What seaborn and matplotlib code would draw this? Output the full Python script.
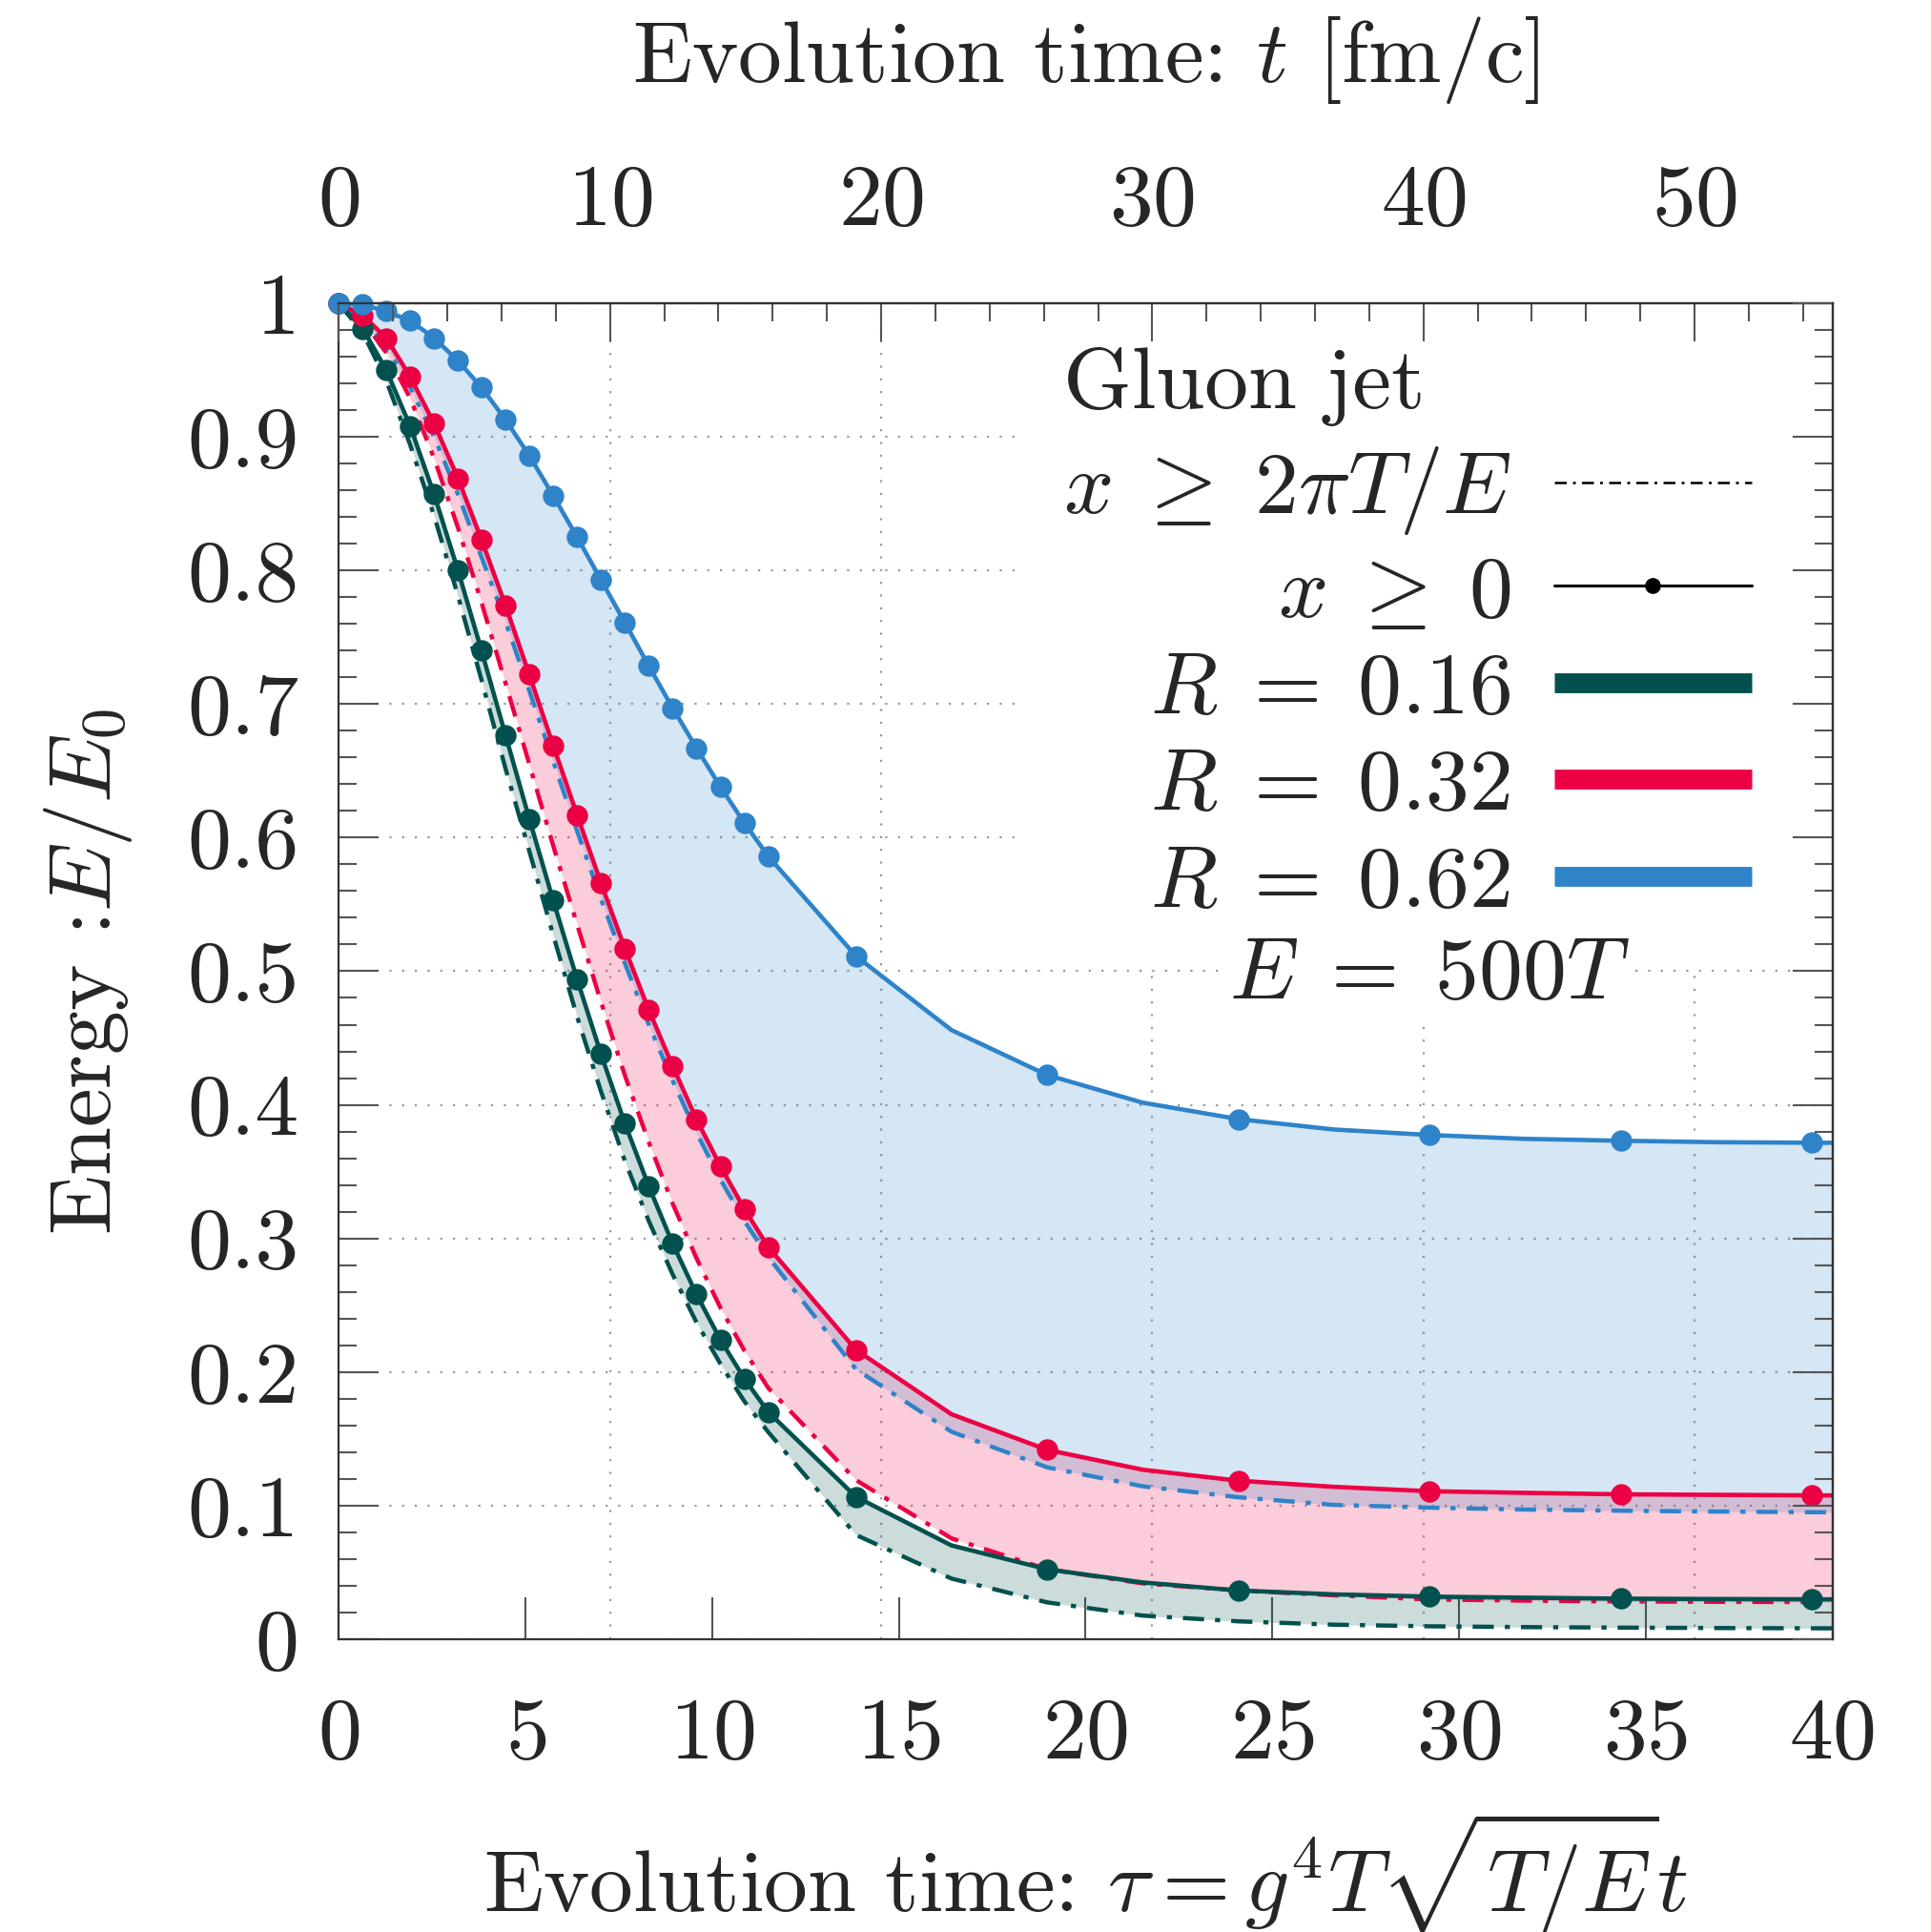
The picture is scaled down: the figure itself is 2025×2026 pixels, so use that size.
import matplotlib

matplotlib.use("Agg")

import matplotlib.pyplot as plt
from matplotlib.lines import Line2D
from matplotlib.patches import Rectangle
from matplotlib.ticker import MultipleLocator
import numpy as np
import seaborn as sns

# evolution time tau (same grid for every curve); last point lies past the frame
TAU = [0.0, 0.64, 1.27, 1.91, 2.55, 3.19, 3.82, 4.46, 5.10, 5.74, 6.38, 7.02, 7.66,
       8.30, 8.94, 9.58, 10.22, 10.86, 11.50,
       13.85, 16.41, 18.97, 21.53, 24.09, 26.65, 29.21, 31.77, 34.33, 36.89, 39.45, 42.01]

# R = 0.16
R016_ALL = [1.0, 0.981, 0.950, 0.908, 0.857, 0.800, 0.740, 0.677, 0.614, 0.553, 0.494, 0.438,
            0.386, 0.339, 0.296, 0.258, 0.224, 0.195, 0.170,
            0.1065, 0.0701, 0.0523, 0.0424, 0.0364, 0.0335, 0.0318, 0.0310, 0.0303, 0.0300,
            0.0298, 0.0296]
R016_CUT = [1.0, 0.978, 0.942, 0.894, 0.841, 0.781, 0.718, 0.652, 0.590, 0.527, 0.466, 0.410,
            0.358, 0.313, 0.273, 0.237, 0.206, 0.178, 0.155,
            0.078, 0.0453, 0.0275, 0.0176, 0.0133, 0.0108, 0.0096, 0.0090, 0.0086, 0.0083,
            0.0081, 0.0080]

# R = 0.32
R032_ALL = [1.0, 0.991, 0.974, 0.945, 0.910, 0.869, 0.823, 0.774, 0.722, 0.669, 0.617, 0.566,
            0.517, 0.471, 0.429, 0.389, 0.354, 0.322, 0.2935,
            0.2165, 0.1683, 0.1417, 0.1268, 0.1186, 0.1140, 0.1107, 0.1095, 0.1084, 0.1080,
            0.1076, 0.1074]
R032_CUT = [1.0, 0.987, 0.963, 0.929, 0.884, 0.832, 0.776, 0.716, 0.655, 0.594, 0.535, 0.477,
            0.422, 0.372, 0.326, 0.285, 0.248, 0.216, 0.188,
            0.119, 0.0754, 0.0523, 0.0417, 0.0364, 0.0328, 0.0297, 0.0288, 0.0282, 0.0279,
            0.0277, 0.0276]

# R = 0.62
R062_ALL = [1.0, 0.999, 0.994, 0.987, 0.974, 0.957, 0.937, 0.913, 0.886, 0.856, 0.825, 0.793,
            0.761, 0.7285, 0.697, 0.667, 0.638, 0.611, 0.586,
            0.5113, 0.4559, 0.4223, 0.4016, 0.3893, 0.3815, 0.3774, 0.3745, 0.3731, 0.3720,
            0.3716, 0.3714]
R062_CUT = [1.0, 0.989, 0.968, 0.937, 0.900, 0.857, 0.810, 0.762, 0.710, 0.657, 0.605, 0.554,
            0.506, 0.460, 0.418, 0.379, 0.344, 0.313, 0.286,
            0.202, 0.1552, 0.1286, 0.1144, 0.1062, 0.1005, 0.0984, 0.0970, 0.0961, 0.0955,
            0.0950, 0.0948]

R_LABELS = ["0.16", "0.32", "0.62"]
COLORS = ["#02514F", "#EC0044", "#2E83C9"]

# points that carry a dot: all of the dense part, every other one afterwards
DOT_IDX = list(range(19)) + [19, 21, 23, 25, 27, 29]

T_PER_TAU = 1.377  # t [fm/c] per unit of tau
TOP_TICKS = [0, 10, 20, 30, 40, 50]

FS = 66
DASHDOT = (0, (5, 2.6, 1.2, 2.6))
GRID_KW = dict(color="#9a9a9a", linestyle=(0, (1, 5)), linewidth=1.6)
TICK_COLOR = "#555555"
SPINE_COLOR = "#333333"


def setup_style() -> None:
    sns.set_theme(style="ticks")
    plt.rcParams["font.family"] = ["cmr10"]
    plt.rcParams["mathtext.fontset"] = "cm"
    plt.rcParams["axes.formatter.use_mathtext"] = True
    plt.rcParams["axes.unicode_minus"] = False


def main() -> None:
    setup_style()
    fig = plt.figure(figsize=(20.25, 20.26), dpi=100)
    ax = fig.add_axes([0.1755, 0.1516, 0.7734, 0.6914])

    tau = np.array(TAU)
    series = [(R016_ALL, R016_CUT), (R032_ALL, R032_CUT), (R062_ALL, R062_CUT)]

    # shaded bands between the two cuts (red before blue so the overlap looks purple)
    for (full, cut), color in zip(series, COLORS):
        ax.fill_between(tau, cut, full, color=color, alpha=0.2, lw=0, zorder=1)

    for (full, cut), color in zip(series, COLORS):
        sns.lineplot(x=tau, y=cut, ax=ax, color=color, lw=3.2, linestyle=DASHDOT,
                     sort=False, estimator=None, zorder=2)
    for (full, cut), color in zip(series, COLORS):
        sns.lineplot(x=tau, y=full, ax=ax, color=color, lw=3.3, sort=False,
                     estimator=None, zorder=3)
        sns.scatterplot(x=tau[DOT_IDX], y=np.array(full)[DOT_IDX], ax=ax, color=color,
                        s=260, linewidth=0, zorder=4, clip_on=False)

    ax.set_xlim(0, 40)
    ax.set_ylim(0, 1)
    ax.xaxis.set_major_locator(MultipleLocator(5))
    ax.set_yticks(np.arange(0, 1.01, 0.1))
    ax.set_yticklabels(["0", "0.1", "0.2", "0.3", "0.4", "0.5", "0.6", "0.7", "0.8", "0.9", "1"])
    ax.yaxis.set_minor_locator(MultipleLocator(0.02))
    # vertical grid follows the top (fm/c) axis
    ax.set_xticks([t / T_PER_TAU for t in TOP_TICKS[1:]], minor=True)

    ax.tick_params(axis="x", which="major", direction="in", length=32, width=1.5,
                   color=TICK_COLOR, labelsize=FS, pad=44, top=False)
    ax.tick_params(axis="x", which="minor", length=0, top=False)
    ax.tick_params(axis="y", which="major", direction="in", length=30, width=1.5,
                   color=TICK_COLOR, labelsize=FS, pad=30, right=False)
    ax.tick_params(axis="y", which="minor", direction="in", length=14, width=1.5,
                   color=TICK_COLOR, right=False)
    ax.xaxis.grid(True, which="minor", **GRID_KW)
    ax.yaxis.grid(True, which="major", **GRID_KW)
    ax.set_axisbelow(True)
    for spine in ax.spines.values():
        spine.set_visible(True)
        spine.set_color(SPINE_COLOR)
        spine.set_linewidth(1.6)

    top = ax.secondary_xaxis("top", functions=(lambda x: x * T_PER_TAU, lambda x: x / T_PER_TAU))
    top.set_xticks(TOP_TICKS)
    top.xaxis.set_minor_locator(MultipleLocator(2))
    top.tick_params(which="major", direction="in", length=29, width=1.5, color=TICK_COLOR,
                    labelsize=FS, pad=46)
    top.tick_params(which="minor", direction="in", length=14, width=1.5, color=TICK_COLOR)
    top.spines["top"].set_color(SPINE_COLOR)
    top.spines["top"].set_linewidth(1.6)
    top.set_xlabel(r"Evolution time: $t$ [fm/c]", fontsize=FS, labelpad=62)
    top.set_zorder(6)

    right = ax.secondary_yaxis("right")
    right.set_yticks(np.arange(0, 1.01, 0.1))
    right.yaxis.set_minor_locator(MultipleLocator(0.02))
    right.tick_params(which="major", direction="in", length=30, width=1.5, color=TICK_COLOR,
                      labelright=False)
    right.tick_params(which="minor", direction="in", length=14, width=1.5, color=TICK_COLOR)
    right.spines["right"].set_color(SPINE_COLOR)
    right.spines["right"].set_linewidth(1.6)
    right.set_zorder(6)

    ax.set_xlabel(r"Evolution time: $\tau = g^4T\sqrt{T/E}t$", fontsize=FS, labelpad=26)
    ax.set_ylabel(r"Energy :$E/E_0$", fontsize=FS, labelpad=40)

    handles = [
        Line2D([], [], color="black", lw=1.8, linestyle=DASHDOT),
        Line2D([], [], color="black", lw=2.2, marker="o", ms=11),
    ] + [Line2D([], [], color=c, lw=15, solid_capstyle="butt") for c in COLORS]
    labels = [r"$x\;\geq\;2\pi T/E$", r"$x\;\geq\;0$"] + [rf"$R\;=\;{r}$" for r in R_LABELS]
    leg = ax.legend(handles, labels, title="Gluon jet", loc="upper right",
                    bbox_to_anchor=(0.975, 1.0), markerfirst=False,
                    fontsize=FS, title_fontsize=FS, frameon=False, borderaxespad=0,
                    borderpad=0.5, handlelength=2.25, handletextpad=0.5, labelspacing=0.21,
                    alignment="left")
    leg.set_zorder(5)

    ax.text(0.73, 0.496, r"$E\;=\;500T$", transform=ax.transAxes, fontsize=FS, ha="center",
            va="center", zorder=7,
            bbox=dict(facecolor="white", edgecolor="none", pad=2))

    # white backing behind the key, reaching the frame on the right
    fig.canvas.draw()
    bb = leg.get_window_extent().transformed(ax.transAxes.inverted())
    ax.add_patch(Rectangle((bb.x0, bb.y0), 1 - bb.x0, 1 - bb.y0, transform=ax.transAxes,
                           facecolor="white", edgecolor="none", zorder=0.9))

    fig.savefig("out.png", dpi=100)
    plt.close(fig)


if __name__ == "__main__":
    main()
